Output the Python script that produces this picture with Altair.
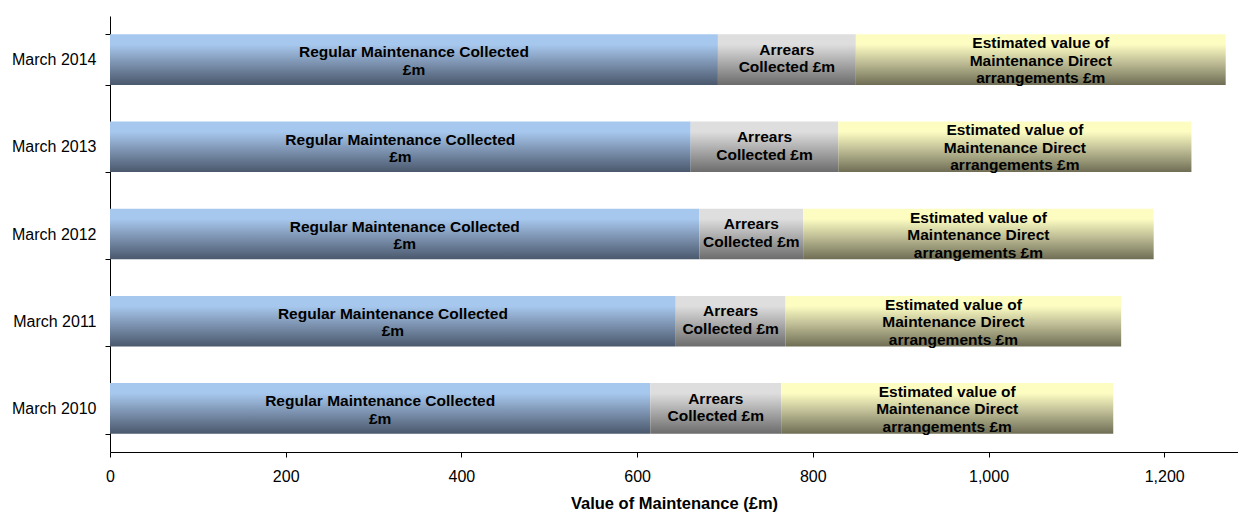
import altair as alt
import pandas as pd

# Child maintenance values by year (£m)
periods = ["March 2010", "March 2011", "March 2012", "March 2013", "March 2014"]
regular = [615, 644, 671, 661, 692]
arrears = [149, 125, 118, 168, 157]
direct = [378, 382, 399, 402, 421]

segments = ["regular", "arrears", "direct"]
seg_labels = {
    "regular": "Regular Maintenance Collected\n£m",
    "arrears": "Arrears\nCollected £m",
    "direct": "Estimated value of\nMaintenance Direct\narrangements £m",
}
seg_values = {"regular": regular, "arrears": arrears, "direct": direct}

rows = []
for i, p in enumerate(periods):
    for k, s in enumerate(segments):
        rows.append({"period": p, "segment": s, "order": k,
                     "value": seg_values[s][i], "label": seg_labels[s]})
df = pd.DataFrame(rows)

FONT = "Liberation Sans"

def grad(top, mid, bottom):
    return {
        "gradient": "linear", "x1": 0, "y1": 0, "x2": 0, "y2": 1,
        "stops": [
            {"offset": 0, "color": top},
            {"offset": 0.2, "color": top},
            {"offset": 0.55, "color": mid},
            {"offset": 1, "color": bottom},
        ],
    }

fills = {
    "regular": grad("#a7c8ee", "#7f96b4", "#4a586c"),
    "arrears": grad("#dedede", "#acacac", "#6c6c6c"),
    "direct": grad("#fdfdc2", "#c0bf97", "#6f6e55"),
}
# vertical shift of each multi-line label so the block sits on the bar
LINE_H = 17.5
label_dy = {
    "regular": -LINE_H / 2 + 1.5,
    "arrears": -LINE_H / 2 - 1,
    "direct": -LINE_H + 1,
}

base = alt.Chart(df).transform_stack(
    stack="value", as_=["x0", "x1"], groupby=["period"],
    sort=[alt.SortField("order", order="ascending")],
).transform_calculate(mid="(datum.x0 + datum.x1) / 2")

y_enc = alt.Y(
    "period:N",
    sort=periods[::-1],
    scale=alt.Scale(paddingInner=0.42, paddingOuter=0.21),
    axis=alt.Axis(
        title=None, tickBand="extent", tickSize=5, tickColor="#000000",
        domainColor="#000000", labelColor="#000000", labelFont=FONT,
        labelFontSize=16, labelPadding=9,
    ),
)

x_enc = alt.X(
    "x0:Q",
    scale=alt.Scale(domain=[0, 1284], nice=False, zero=True),
    axis=alt.Axis(
        values=[0, 200, 400, 600, 800, 1000, 1200], format=",.0f",
        labelFlush=False,
        title="Value of Maintenance (£m)", titleFont=FONT, titleFontSize=16.5,
        titleFontWeight="bold", titleColor="#000000", titlePadding=11,
        labelFont=FONT, labelFontSize=16, labelColor="#000000", labelPadding=11,
        tickSize=5, tickColor="#000000", domainColor="#000000", grid=False,
    ),
)

layers = []
for s in segments:
    layers.append(
        base.transform_filter(alt.datum.segment == s)
        .mark_bar(color=fills[s])
        .encode(y=y_enc, x=x_enc, x2="x1:Q")
    )
for s in segments:
    layers.append(
        base.transform_filter(alt.datum.segment == s)
        .mark_text(
            font=FONT, fontSize=15.5, fontWeight="bold", color="#000000",
            lineBreak="\n", lineHeight=LINE_H, align="center", baseline="middle",
            dy=label_dy[s],
        )
        .encode(y=alt.Y("period:N", sort=periods[::-1]), x=alt.X("mid:Q"), text="label:N")
    )

chart = alt.layer(*layers).properties(
    width=1128,
    height=436,
    padding={"left": 110, "top": 16, "right": 0, "bottom": 64},
    autosize=alt.AutoSizeParams(type="none"),
    background="#ffffff",
).configure_view(stroke=None)

chart.save("out.html", embed_options={"renderer": "svg", "actions": False})
